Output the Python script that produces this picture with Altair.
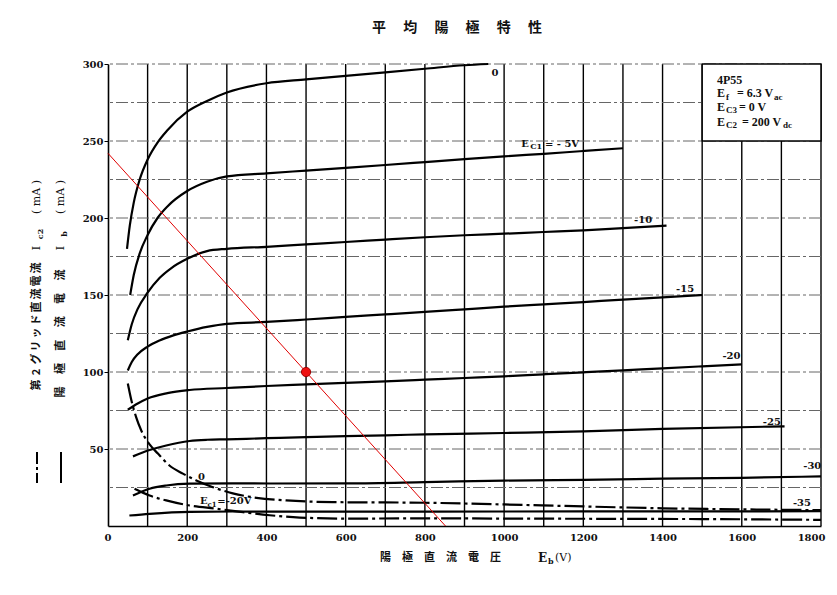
import altair as alt
import pandas as pd

# ---------------- data ----------------
grid_v = list(range(100, 1900, 100))
grid_h = list(range(25, 325, 25))
x_ticks = list(range(0, 2000, 200))
y_ticks = [50, 100, 150, 200, 250, 300]

# plate current curves Ib (mA) vs Eb (V) for each Ec1
p0_v = [48, 55, 65, 80, 100, 125, 150, 200, 250, 300, 400, 500, 600, 700, 800, 900, 960]
p0_i = [180, 195, 210, 225, 238, 249, 257, 269, 276, 281.5, 287.5, 290, 292.3, 294.6, 296.9, 299.2, 300]

p5_v = [56, 65, 80, 100, 125, 150, 200, 250, 300, 400, 500, 600, 700, 800, 900, 1000, 1100, 1200, 1300]
p5_i = [150, 163, 177, 189, 200, 207.5, 217.5, 223.5, 227, 229, 230.8, 232.6, 234.4, 236.3, 238.2, 240, 241.7, 243.5, 245.3]

p10_v = [50, 60, 75, 100, 130, 160, 200, 250, 300, 400, 500, 600, 700, 800, 900, 1000, 1100, 1200, 1300, 1410]
p10_i = [120.6, 131, 141, 151.5, 161, 167.5, 173.5, 178.5, 180, 181.3, 182.9, 184.4, 186, 187.5, 188.8, 189.8, 190.9, 192, 193.4, 195]

p15_v = [50, 60, 75, 100, 130, 165, 200, 250, 300, 400, 500, 600, 700, 800, 900, 1000, 1100, 1200, 1300, 1400, 1500]
p15_i = [101, 106.5, 111.5, 116.5, 120.5, 123.8, 126.3, 129.3, 131.3, 132.5, 134.1, 135.8, 137.4, 139, 140.7, 142.4, 143.9, 145.4, 147, 148.5, 150]

p20_v = [50, 75, 100, 150, 206, 300, 400, 500, 600, 700, 800, 900, 1000, 1100, 1200, 1300, 1400, 1500, 1600]
p20_i = [75.5, 79.5, 82.8, 86.3, 88.3, 89.6, 90.9, 91.9, 92.9, 93.9, 95, 96.1, 97.2, 98.5, 99.8, 101.1, 102.4, 103.7, 105]

p25_v = [63, 105, 147, 206, 250, 300, 400, 500, 600, 700, 800, 1000, 1200, 1400, 1708]
p25_i = [45.2, 49.3, 52.3, 55.2, 56, 56.3, 57, 57.7, 58.3, 58.9, 59.5, 60.4, 61.5, 63.1, 64.7]

p30_v = [63, 105, 147, 206, 315, 410, 610, 800, 1000, 1200, 1400, 1600, 1800]
p30_i = [19.8, 24.2, 26.3, 27.5, 27.7, 27.6, 27.7, 28.5, 29.5, 30, 30.7, 31.3, 32.2]

p35_v = [54, 105, 206, 315, 410, 610, 1000, 1200, 1500, 1800]
p35_i = [6.8, 7.9, 9.2, 9.4, 9.3, 9.3, 9.4, 9.5, 9.5, 9.6]

# screen-grid current curves Ic2 (mA)
s0_v = [50, 59, 71, 84, 105, 126, 155, 189, 223, 265, 315, 375, 450, 568, 800, 1000, 1200, 1400, 1600, 1800]
s0_i = [92.5, 81.6, 70.7, 62, 53, 47, 39.3, 34, 29.6, 25.2, 21.2, 18.3, 16.6, 15.5, 15.1, 14, 12.7, 11.5, 10.8, 10.3]

s20_v = [67, 105, 147, 206, 274, 341, 408, 484, 610, 800, 1000, 1200, 1500, 1800]
s20_i = [24.2, 19.8, 16.6, 13.3, 11.2, 9, 7.0, 5.5, 4.8, 5.0, 4.8, 4.7, 4.5, 4.0]

# load line and operating point
load_v = [0, 852]
load_i = [242, 0]
op_v = [500]
op_i = [100]

# curve labels
lab_text = ["0", "-10", "-15", "-20", "-25", "-30", "-35", "0"]
lab_v = [977, 1351, 1457, 1574, 1676, 1778, 1752, 236]
lab_i = [294, 199, 153.6, 110.2, 67.5, 38.7, 15, 31.7]

# info box extent
box_v = [1500, 1800]
box_i = [250, 300]

# axis-title characters
col1_chars = ["第", "2", "グ", "リ", "ッ", "ド", "直", "流", "電", "流"]
col2_chars = ["陽", "極", "直", "流", "電", "流"]

# ---------------- build ----------------
plate = {"0": (p0_v, p0_i), "-5": (p5_v, p5_i), "-10": (p10_v, p10_i), "-15": (p15_v, p15_i),
         "-20": (p20_v, p20_i), "-25": (p25_v, p25_i), "-30": (p30_v, p30_i), "-35": (p35_v, p35_i)}
screen = {"0": (s0_v, s0_i), "-20": (s20_v, s20_i)}

def long(d):
    rows = []
    for k, (vs, iis) in d.items():
        for v, i in zip(vs, iis):
            rows.append({"curve": k, "V": v, "I": i})
    return pd.DataFrame(rows)

plate_df = long(plate)
screen_df = long(screen)

xs = alt.Scale(domain=[0, 1800], nice=False, zero=False)
ys = alt.Scale(domain=[0, 300], nice=False, zero=False)
SERIF = "DejaVu Serif"
TIMES = "Liberation Serif"
CJK = "Noto Sans CJK JP"

xaxis = alt.Axis(values=x_ticks, title=None, grid=False, tickSize=0, labelPadding=6, format="d",
                 labelFont=SERIF, labelFontWeight="bold", labelFontSize=10, labelColor="#111",
                 domainColor="black", domainWidth=1.6, labelFlush=True, labelFlushOffset=4)
yaxis = alt.Axis(values=y_ticks, title=None, grid=False, tickSize=4, tickColor="black", labelPadding=1,
                 format="d", labelFont=SERIF, labelFontWeight="bold", labelFontSize=10, labelColor="#111",
                 domainColor="black", domainWidth=1.6, labelFlush=False)

def X(f):
    return alt.X(f, type="quantitative", scale=xs, axis=xaxis)

def Y(f):
    return alt.Y(f, type="quantitative", scale=ys, axis=yaxis)

vgrid = alt.Chart(pd.DataFrame({"V": grid_v})).mark_rule(color="black", strokeWidth=1.4).encode(x=X("V"))
hgrid = alt.Chart(pd.DataFrame({"I": grid_h})).mark_rule(
    color="#666", strokeWidth=1, strokeDash=[12, 3, 3, 3]).encode(y=Y("I"))

box = alt.Chart(pd.DataFrame({"v1": [box_v[0]], "v2": [box_v[1]], "i1": [box_i[0]], "i2": [box_i[1]]})).mark_rect(
    fill="white", stroke="black", strokeWidth=1.5).encode(x=X("v1"), x2="v2", y=Y("i1"), y2="i2")

plate_lines = alt.Chart(plate_df).mark_line(color="black", strokeWidth=2.2, interpolate="monotone").encode(
    x=X("V"), y=Y("I"), detail="curve:N")
screen_lines = alt.Chart(screen_df).mark_line(color="black", strokeWidth=2.2, interpolate="monotone",
                                              strokeDash=[20, 4, 3, 4]).encode(
    x=X("V"), y=Y("I"), detail="curve:N")

load = alt.Chart(pd.DataFrame({"V": load_v, "I": load_i})).mark_line(color="#e00000", strokeWidth=1).encode(
    x=X("V"), y=Y("I"))
op = alt.Chart(pd.DataFrame({"V": op_v, "I": op_i})).mark_circle(
    size=85, color="#ee1111", opacity=1, stroke="#a00000", strokeWidth=1).encode(x=X("V"), y=Y("I"))

labels = alt.Chart(pd.DataFrame({"V": lab_v, "I": lab_i, "t": lab_text})).mark_text(
    font=SERIF, fontWeight="bold", fontSize=10, color="#111", align="center", baseline="middle").encode(
    x=X("V"), y=Y("I"), text="t:N")

# labels made of pieces with subscripts (data coordinates)
def dlab(t, v, i, size=10, align="left"):
    return alt.Chart(pd.DataFrame({"V": [v], "I": [i], "t": [t]})).mark_text(
        font=SERIF, fontWeight="bold", fontSize=size, color="#111", align=align, baseline="middle").encode(
        x=X("V"), y=Y("I"), text="t:N")

ec5 = [dlab("E", 1043, 248), dlab("C1", 1066, 246.2, 8), dlab("= - 5V", 1103, 248)]
ec20 = [dlab("E", 232, 16), dlab("c1", 251, 13.6, 7), dlab("=-20V", 276, 16)]

# pixel-positioned annotations (relative to plot origin at page 108, 64)
def ann(t, x, y, size=11, font=SERIF, weight="bold", align="left", angle=0, baseline="middle"):
    return alt.Chart(pd.DataFrame({"a": [0]})).mark_text(
        text=t, font=font, fontWeight=weight, fontSize=size, color="#111", align=align,
        baseline=baseline, angle=angle).encode(x=alt.value(x), y=alt.value(y))

def vline(x, y1, y2, dash=None):
    kw = dict(color="black", strokeWidth=2)
    if dash:
        kw["strokeDash"] = dash
    return alt.Chart(pd.DataFrame({"a": [0]})).mark_rule(**kw).encode(
        x=alt.value(x), y=alt.value(y1), y2=alt.value(y2))

def vchars(chars, x, y_first, y_last, size=11):
    n = len(chars)
    out = []
    for k, c in enumerate(chars):
        y = y_first + (y_last - y_first) * k / (n - 1)
        out.append(ann(c, x, y, size=size, font=CJK, align="center", angle=270))
    return out

title = ann("平\u3000  均\u3000  陽\u3000  極\u3000  特\u3000  性", 349, -36, size=14, font=CJK, align="center")
xtitle = [ann("陽\u3000極\u3000直\u3000流\u3000電\u3000圧", 272, 494, size=11, font=CJK),
          ann("E", 430, 494, size=12), ann("b", 440, 498, size=8), ann("(V)", 447, 494, size=11, weight="normal")]

col1 = [vline(-71, 388, 419, dash=[12, 3, 3, 3])] + vchars(col1_chars, -71, 321, 204, size=11) + [
        ann("I", -71, 184, size=11, align="center", angle=270, weight="normal"),
        ann("c2", -67, 170, size=8, align="center", angle=270),
        ann("(  mA  )", -71, 133, size=11, align="center", angle=270, weight="normal")]
col2 = [vline(-47, 388, 419)] + vchars(col2_chars, -47, 328, 211, size=11) + [
        ann("I", -47, 184, size=11, align="center", angle=270, weight="normal"),
        ann("b", -43, 170, size=8, align="center", angle=270),
        ann("(  mA  )", -47, 133, size=11, align="center", angle=270, weight="normal")]

def bt(t, x, y, size=12):
    return ann(t, x, y, size=size, font=TIMES)

boxtext = [bt("4P55", 609, 16),
           bt("E", 609, 29), bt("f", 618, 32.5, 9), bt("= 6.3 V", 629, 29), bt("ac", 666, 32.5, 9),
           bt("E", 609, 43), bt("C3", 618, 46, 9), bt("= 0 V", 631, 43),
           bt("E", 609, 57.5), bt("C2", 618, 60.5, 9), bt("= 200 V", 634, 57.5), bt("dc", 675, 60.5, 9)]

chart = alt.layer(
    vgrid, hgrid, box, plate_lines, screen_lines, load, op, labels,
    *ec5, *ec20, title, *xtitle, *col1, *col2, *boxtext
).properties(
    width=713, height=462,
    autosize=alt.AutoSizeParams(type="none"),
    padding={"left": 100, "top": 56, "right": 8, "bottom": 50},
    background="white",
).configure_view(stroke=None)

chart.save("out.html", embed_options={"renderer": "svg", "actions": False})
